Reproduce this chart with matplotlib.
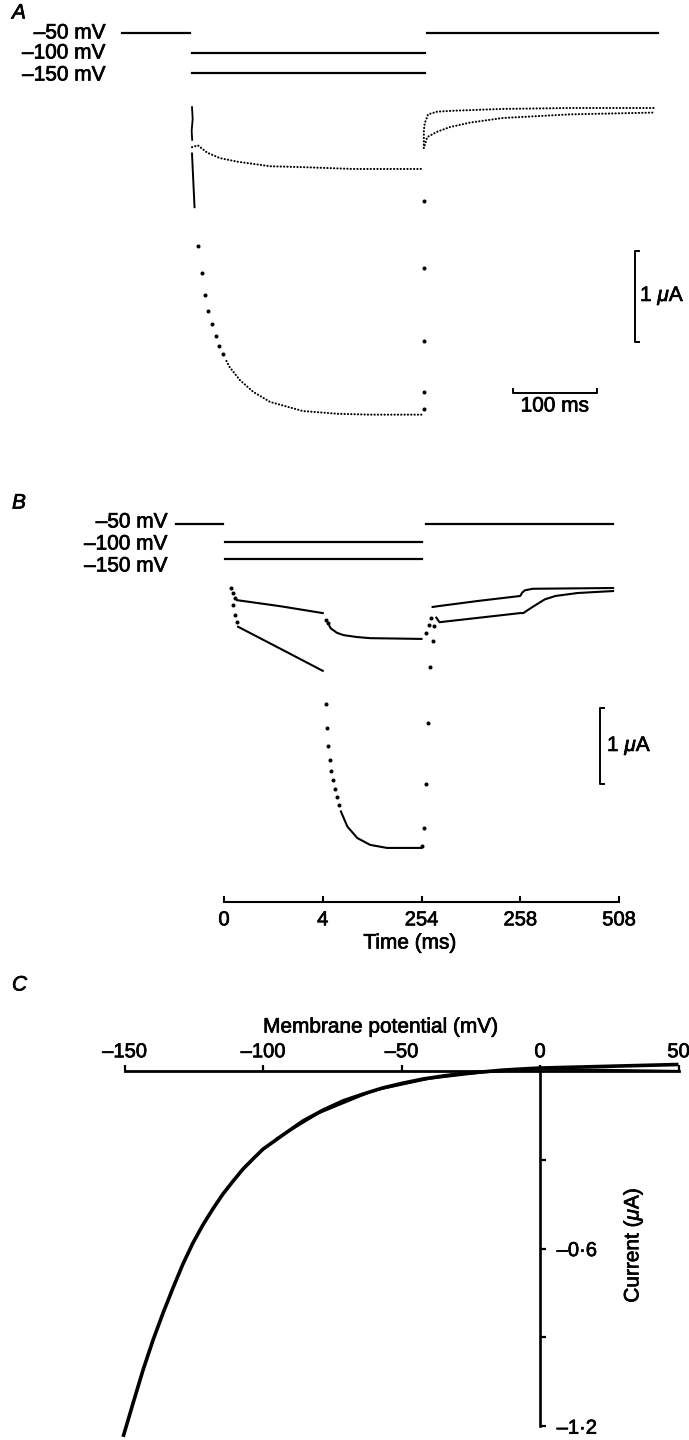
import numpy as np
import matplotlib
matplotlib.use('Agg')
import matplotlib.pyplot as plt
import matplotlib.patheffects as pe

plt.rcParams['font.family'] = ['Liberation Sans', 'DejaVu Sans']
plt.rcParams['mathtext.fontset'] = 'custom'
plt.rcParams['mathtext.rm'] = 'Liberation Sans'
plt.rcParams['mathtext.it'] = 'Liberation Sans:italic'

W, H = 689, 1440

# ---------------- panel A: voltage protocol (ms, mV)
a_pre_t = [-83, -2]
a_step_t = [0, 277]
a_post_t = [280, 555]
hold_v = -50
step_v = [-100, -150]
v_labels = ['\u201350 mV', '\u2013100 mV', '\u2013150 mV']

# panel A currents (ms, uA)
a100_on_t = [0, 0.8, -0.4, 0.2]
a100_on_i = [0.01, -0.12, -0.25, -0.35]
a100_t = [0, 7, 18, 33, 54, 93, 132, 192, 276]
a100_i = [-0.43, -0.41, -0.49, -0.55, -0.59, -0.64, -0.65, -0.67, -0.67]
a100_tail_t = [276, 276, 277, 281, 292, 311, 370, 450, 551]
a100_tail_i = [-0.44, -0.25, -0.17, -0.07, -0.04, -0.03, -0.01, 0.0, 0.0]

a150_on_t = [0, 3]
a150_on_i = [-0.5, -1.09]
a150_dots_t = [7, 12, 15.5, 19, 24, 28.6, 32, 37]
a150_dots_i = [-1.52, -1.81, -2.05, -2.23, -2.37, -2.51, -2.62, -2.70]
a150_t = [41, 45, 57, 73, 93, 132, 173, 212, 275]
a150_i = [-2.78, -2.85, -2.99, -3.12, -3.23, -3.33, -3.36, -3.37, -3.37]
a150_tdots_t = [276, 276, 276, 276, 276]
a150_tdots_i = [-3.31, -3.12, -2.56, -1.76, -1.02]
a150_tail_t = [277, 280, 292, 307, 331, 370, 410, 450, 551]
a150_tail_i = [-0.41, -0.32, -0.26, -0.21, -0.16, -0.11, -0.09, -0.07, -0.05]

# ---------------- panel B: broken time axis (ms)
b_breaks = [0, 4, 254, 258, 508]
b_pre_t = [-1.95, -0.05]
b_step_t = [0.05, 254]
b_post_t = [254.2, 493]

b_on_t = [0.29, 0.37, 0.45]
b_on_i = [0.0, -0.07, -0.13]
b100_t1 = [0.53, 2.29, 4.0]
b100_i1 = [-0.16, -0.24, -0.33]
b100_dots_t = [11.5, 16.5, 254.2, 254.3, 254.4]
b100_dots_i = [-0.42, -0.46, -0.59, -0.49, -0.39]
b100_t2 = [21, 24, 40, 56.5, 90, 124, 254]
b100_i2 = [-0.50, -0.53, -0.59, -0.62, -0.645, -0.66, -0.67]
b100_t3 = [254.45, 254.65, 256.3, 258, 263, 270, 290, 493]
b100_i3 = [-0.25, -0.24, -0.17, -0.105, -0.06, -0.03, -0.01, 0.0]

b150_on_t = [0.37, 0.45, 0.53]
b150_on_i = [-0.22, -0.36, -0.45]
b150_t1 = [0.57, 2.29, 4.0]
b150_i1 = [-0.51, -0.80, -1.09]
b150_dots_t = [11.5, 14, 16.5, 21.5, 24, 29, 34, 39, 44,
               254.04, 254.12, 254.2, 254.28, 254.36, 254.45, 254.5]
b150_dots_i = [-1.53, -1.84, -2.08, -2.26, -2.41, -2.53, -2.64, -2.75, -2.86,
               -3.39, -3.16, -2.58, -1.78, -1.04, -0.70, -0.50]
b150_t2 = [50, 54, 66.5, 91.5, 124, 166.5, 254]
b150_i2 = [-2.94, -2.99, -3.14, -3.29, -3.38, -3.42, -3.42]
b150_t3 = [254.6, 254.73, 258, 265.6, 289, 320, 347, 403, 493]
b150_i3 = [-0.39, -0.45, -0.33, -0.33, -0.25, -0.15, -0.105, -0.066, -0.04]

# ---------------- panel C: I-V relation
c_v = [-150.5, -146.9, -143.3, -139.7, -136.1, -132.5, -128.9, -125.3, -121.7,
       -118.1, -114.5, -110.8, -107.2, -103.6, -100.0, -92.8, -85.6, -78.3,
       -71.1, -63.9, -56.7, -49.5, -42.2, -35.0, -27.8, -20.6, -13.4, -6.1,
       0, 25, 50]
c_i = [-1.236, -1.122, -1.010, -0.909, -0.818, -0.733, -0.652, -0.581, -0.520,
       -0.466, -0.416, -0.372, -0.331, -0.297, -0.264, -0.216, -0.169, -0.132,
       -0.101, -0.078, -0.057, -0.041, -0.027, -0.017, -0.008, -0.003, 0.003, 0.007,
       0.010, 0.016, 0.022]
c_ret_v = [50, 35, 20, 0, -20, -40, -60, -80, -95]
c_ret_i = [0.0, 0.002, 0.004, 0.006, -0.004, -0.026, -0.066, -0.143, -0.228]
c_xticks = [-150, -100, -50, 0, 50]
c_xlabels = ['\u2013150', '\u2013100', '\u201350', '0', '50']
c_yticks = [-1.2, -0.6]
c_ylabels = ['\u20131\u00b72', '\u20130\u00b76']
c_yminor = [-0.9, -0.3]


def rect(x0, y0, x1, y1):
    return [x0 / W, 1 - y1 / H, (x1 - x0) / W, (y1 - y0) / H]


def ftext(x, y, s, **kw):
    fig.text(x / W, 1 - y / H, s, **kw)


def bare(ax):
    for s in ax.spines.values():
        s.set_visible(False)
    ax.set_xticks([])
    ax.set_yticks([])
    ax.xaxis.set_minor_locator(matplotlib.ticker.NullLocator())
    ax.patch.set_alpha(0)


dotted = dict(color='k', lw=1.5, linestyle=(0, (0.1, 1.5)), dash_capstyle='round')
spdots = dict(color='k', marker='o', ms=1.9, linestyle='none')
FS = 15
TS = 14.5

fig = plt.figure(figsize=(W / 100, H / 100), dpi=100)

# ======== A
axAv = fig.add_axes(rect(0, 15, W, 90))
axAv.set_xlim(-192 / 0.84, (W - 192) / 0.84)
axAv.set_ylim(-192.5, -5)
bare(axAv)
axAv.plot(a_pre_t, [hold_v] * 2, 'k', lw=1.6)
axAv.plot(a_post_t, [hold_v] * 2, 'k', lw=1.6)
for v in step_v:
    axAv.plot(a_step_t, [v, v], 'k', lw=1.6)

axA = fig.add_axes(rect(0, 90, W, 430))
axA.set_xlim(-192 / 0.84, (W - 192) / 0.84)
axA.set_ylim((108 - 430) / 91, (108 - 90) / 91)
bare(axA)
axA.plot(a100_on_t, a100_on_i, 'k', lw=1.3)
axA.plot(a100_t, a100_i, **dotted)
axA.plot(a100_tail_t, a100_tail_i, **dotted)
axA.plot(a150_on_t, a150_on_i, 'k', lw=1.4)
axA.plot(a150_dots_t, a150_dots_i, **spdots)
axA.plot(a150_t, a150_i, **dotted)
axA.plot(a150_tdots_t, a150_tdots_i, **spdots)
axA.plot(a150_tail_t, a150_tail_i, **dotted)
# scale bars: 1 uA, 100 ms
sb_i, sb_t = 1.0, 100
axA.plot([532, 527, 527, 532], [-1.57, -1.57, -1.57 - sb_i, -1.57 - sb_i], 'k', lw=1.4)
axA.plot([382, 382, 382 + sb_t, 382 + sb_t], [-3.09, -3.13, -3.13, -3.09], 'k', lw=1.4)

ftext(12, 13, 'A', fontsize=FS, style='italic', va='center')
for lab, y in zip(v_labels, [33, 53, 75]):
    ftext(106, y, lab, fontsize=FS, ha='right', va='center')
ftext(640, 296, r'1 $\mathit{\mu}$A', fontsize=FS, va='center')
ftext(555, 406, '100 ms', fontsize=FS, ha='center', va='center')


# ======== B
def fwd(t):
    t = np.asarray(t, dtype=float)
    u = np.interp(t, b_breaks, np.arange(5))
    u = np.where(t < 0, t / 4.0, u)
    u = np.where(t > 508, 4 + (t - 508) / 250.0, u)
    return u


def inv(u):
    u = np.asarray(u, dtype=float)
    t = np.interp(u, np.arange(5), b_breaks)
    t = np.where(u < 0, u * 4.0, t)
    t = np.where(u > 4, 508 + (u - 4) * 250.0, t)
    return t


bx0 = inv(-224 / 98.75)
bx1 = inv((W - 224) / 98.75)

axBv = fig.add_axes(rect(0, 505, W, 580))
axBv.set_xscale('function', functions=(fwd, inv))
axBv.set_xlim(bx0, bx1)
axBv.set_ylim(-50 - 56 * 2.857, -50 + 19 * 2.857)
bare(axBv)
axBv.plot(b_pre_t, [hold_v] * 2, 'k', lw=1.6)
axBv.plot(b_post_t, [hold_v] * 2, 'k', lw=1.6)
for v in step_v:
    axBv.plot(b_step_t, [v, v], 'k', lw=1.6)

axB = fig.add_axes(rect(0, 580, W, 902))
for s in ['top', 'left', 'right']:
    axB.spines[s].set_visible(False)
axB.patch.set_alpha(0)
axB.set_xscale('function', functions=(fwd, inv))
axB.set_xlim(bx0, bx1)
axB.set_ylim((588 - 902) / 76, (588 - 580) / 76)
axB.set_yticks([])
axB.spines['bottom'].set_bounds(0, 508)
axB.spines['bottom'].set_linewidth(1.5)
axB.set_xticks(b_breaks, [str(b) for b in b_breaks])
axB.xaxis.set_minor_locator(matplotlib.ticker.NullLocator())
axB.tick_params(axis='x', direction='in', length=4, width=1.5, pad=6, labelsize=TS)
axB.set_xlabel('Time (ms)', fontsize=FS)
axB.xaxis.set_label_coords(410 / W, (902 - 943) / 322, transform=axB.transAxes)
axB.xaxis.label.set_va('center')

axB.plot(b_on_t, b_on_i, **spdots)
axB.plot(b100_t1, b100_i1, 'k', lw=1.5)
axB.plot(b100_dots_t, b100_dots_i, **spdots)
axB.plot(b100_t2, b100_i2, 'k', lw=1.5)
axB.plot(b100_t3, b100_i3, 'k', lw=1.5)
axB.plot(b150_on_t, b150_on_i, **spdots)
axB.plot(b150_t1, b150_i1, 'k', lw=1.5)
axB.plot(b150_dots_t, b150_dots_i, **spdots)
axB.plot(b150_t2, b150_i2, 'k', lw=1.5)
axB.plot(b150_t3, b150_i3, 'k', lw=1.5)
axB.plot([470, 460, 460, 470], [-1.58, -1.58, -1.58 - sb_i, -1.58 - sb_i], 'k', lw=1.4)

ftext(12, 503, 'B', fontsize=FS, style='italic', va='center')
for lab, y in zip(v_labels, [522, 544, 566]):
    ftext(168, y, lab, fontsize=FS, ha='right', va='center')
ftext(607, 746, r'1 $\mathit{\mu}$A', fontsize=FS, va='center')

# ======== C
axC = fig.add_axes(rect(100, 990, W, H))
axC.patch.set_alpha(0)
axC.set_xlim((100 - 540) / 2.77, (W - 540) / 2.77)
axC.set_ylim((1071 - H) / 296, (1071 - 990) / 296)
axC.spines['left'].set_visible(False)
axC.spines['bottom'].set_visible(False)
axC.spines['top'].set_position(('data', 0))
axC.spines['top'].set_bounds(-150, 50)
axC.spines['right'].set_position(('data', 0))
axC.spines['right'].set_bounds(-1.2, 0)
axC.spines['top'].set_linewidth(2.0)
axC.spines['right'].set_linewidth(1.9)
axC.xaxis.set_ticks_position('top')
axC.set_xticks(c_xticks, c_xlabels)
axC.tick_params(axis='x', direction='out', length=4, width=1.6, pad=3, labelsize=TS)
axC.yaxis.set_ticks_position('right')
axC.set_yticks(c_yticks, c_ylabels)
axC.set_yticks(c_yminor, minor=True)
axC.tick_params(axis='y', which='both', direction='out', length=4, width=1.6, pad=8, labelsize=TS)
axC.set_xlabel('Membrane potential (mV)', fontsize=FS)
axC.xaxis.set_label_position('top')
axC.xaxis.set_label_coords((381 - 100) / 589, (H - 1027) / 450, transform=axC.transAxes)
axC.xaxis.label.set_va('center')
axC.set_ylabel(r'Current ($\mathit{\mu}$A)', fontsize=FS)
axC.yaxis.set_label_position('right')
axC.yaxis.set_label_coords((633 - 100) / 589, (H - 1245) / 450, transform=axC.transAxes)
axC.yaxis.label.set_va('center')
axC.yaxis.label.set_rotation(90)

axC.plot(c_v, c_i, 'k', lw=2.6, solid_capstyle='butt', solid_joinstyle='round')
axC.plot(c_ret_v, c_ret_i, 'k', lw=1.6)

ftext(12, 985, 'C', fontsize=FS, style='italic', va='center')

# slightly heavier type, like the printed original
for t in fig.findobj(matplotlib.text.Text):
    t.set_path_effects([pe.withStroke(linewidth=0.5, foreground='k')])

fig.savefig('out.png', dpi=100)
